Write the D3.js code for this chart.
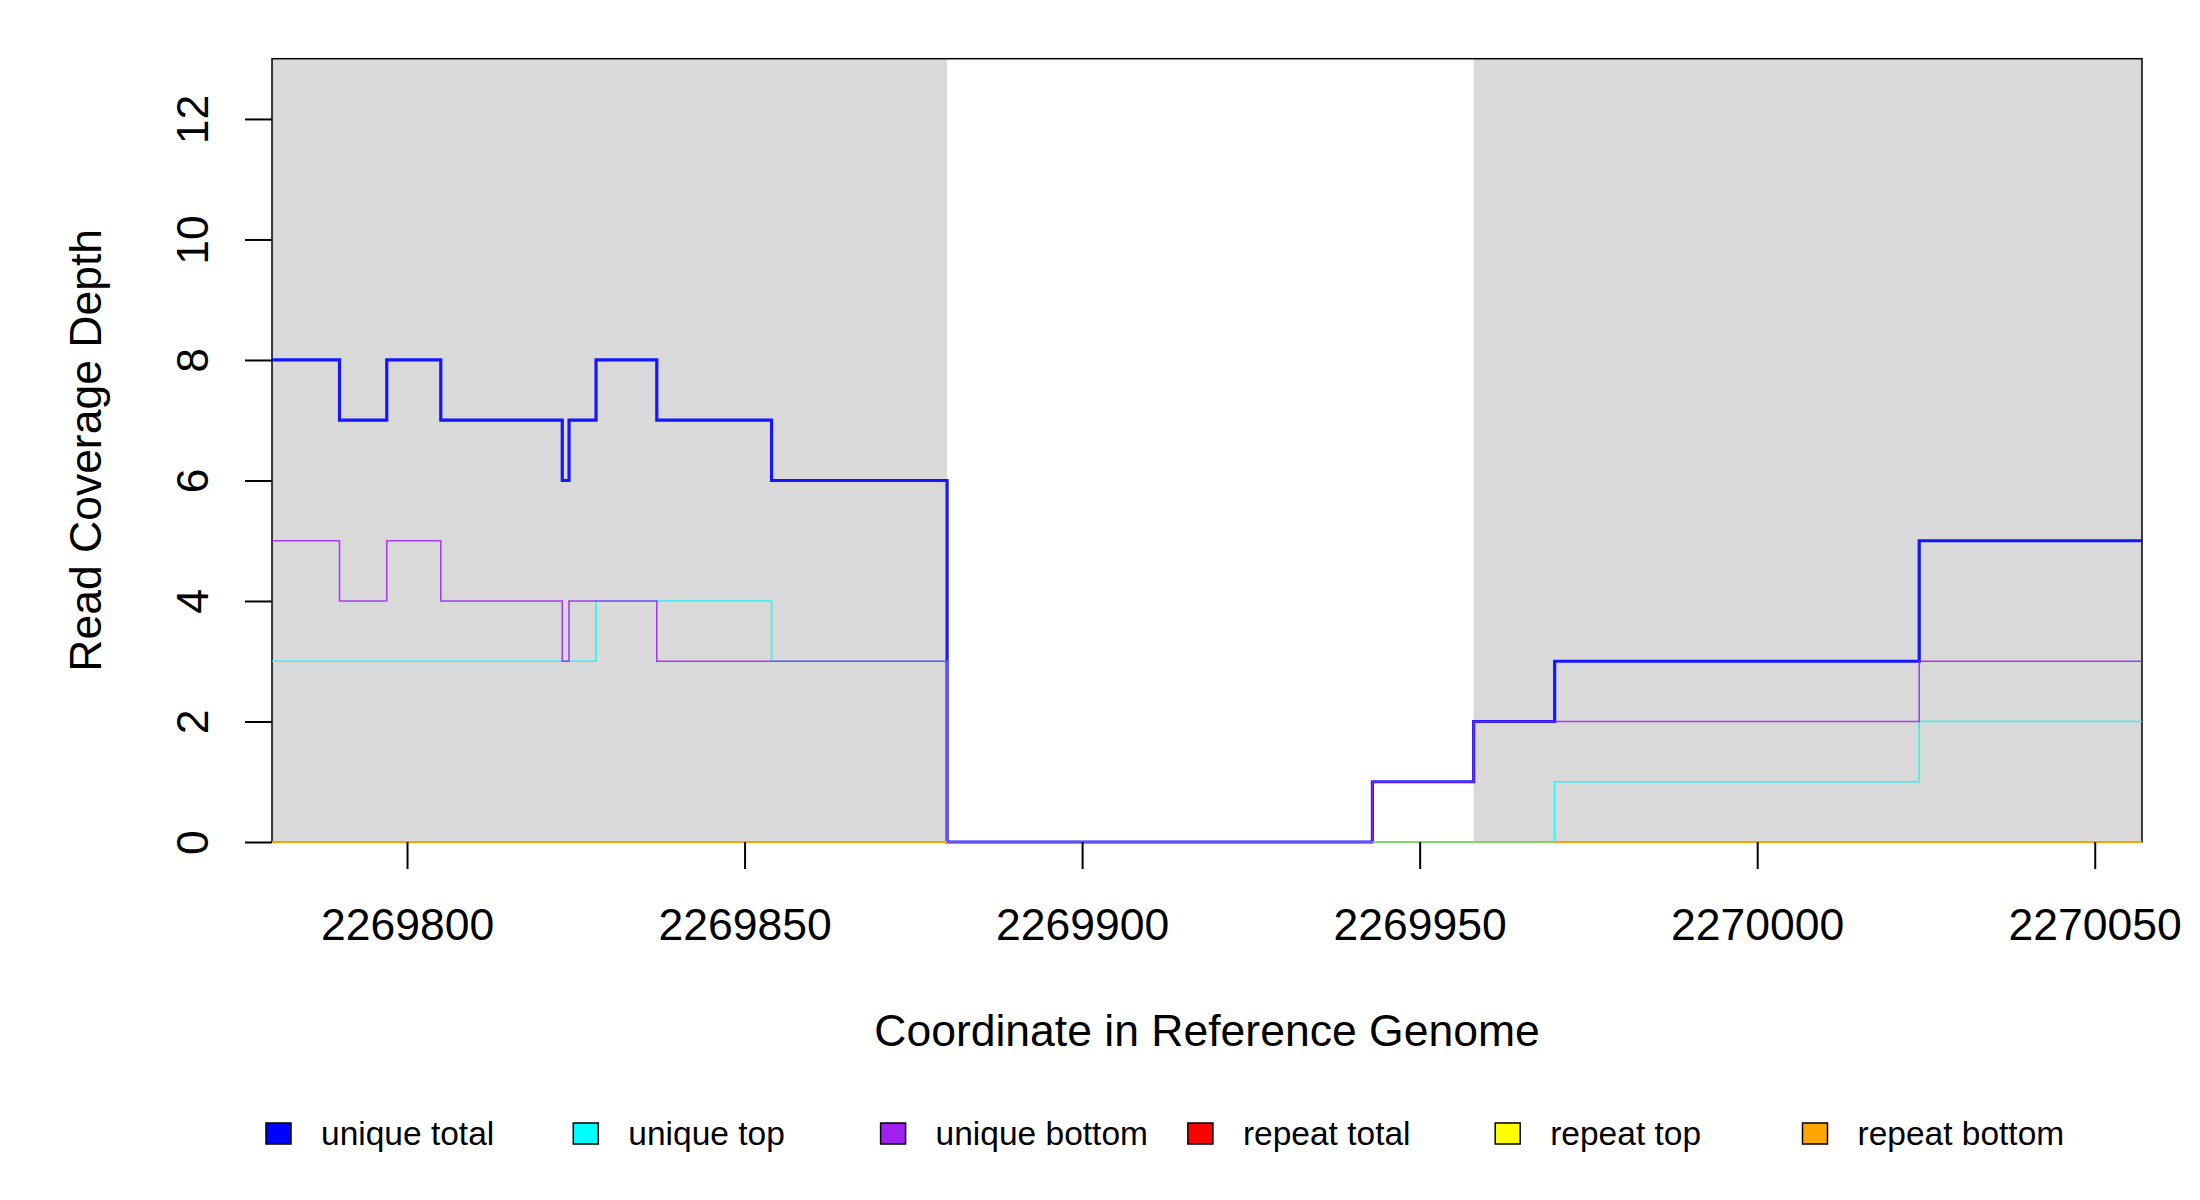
<!DOCTYPE html>
<html>
<head>
<meta charset="utf-8">
<script src="https://cdn.jsdelivr.net/npm/d3@7"></script>
<style>
  body { margin: 0; background: #fff; }
  svg { display: block; }
</style>
</head>
<body>
<svg id="chart"></svg>
<script>
// segment boundaries (genome coordinate) and per-segment depth
const breaks = [2269780, 2269790, 2269797, 2269805, 2269823, 2269824, 2269828,
  2269837, 2269854, 2269880, 2269943, 2269958, 2269970, 2270024, 2270057];
const uniqueTotal  = [8, 7, 8, 7, 6, 7, 8, 7, 6, 0, 1, 2, 3, 5];
const uniqueTop    = [3, 3, 3, 3, 3, 3, 4, 4, 3, 0, 0, 0, 1, 2];
const uniqueBottom = [5, 4, 5, 4, 3, 4, 4, 3, 3, 0, 1, 2, 2, 3];
const repeatTotal  = [0, 0, 0, 0, 0, 0, 0, 0, 0, null, null, null, 0, 0];
const repeatTop    = [0, 0, 0, 0, 0, 0, 0, 0, 0, null, 0, 0, 0, 0];
const repeatBottom = [0, 0, 0, 0, 0, 0, 0, 0, 0, null, null, null, 0, 0];

// shaded regions
const shadeStart = [2269780, 2269958];
const shadeEnd   = [2269880, 2270057];

const xTicks = [2269800, 2269850, 2269900, 2269950, 2270000, 2270050];
const yTicks = [0, 2, 4, 6, 8, 10, 12];

const seriesNames = ["unique total", "unique top", "unique bottom", "repeat total", "repeat top", "repeat bottom"];
const seriesColors = ["#0000ff", "#00ffff", "#a020f0", "#ff0000", "#ffff00", "#ffa500"];
const seriesWidths = [3.2, 1.6, 1.6, 2, 2, 2];
const seriesOpacity = [0.9, 0.85, 0.85, 0.85, 0.45, 0.9];
const seriesValues = [uniqueTotal, uniqueTop, uniqueBottom, repeatTotal, repeatTop, repeatBottom];

const width = 2200, height = 1200;
const margin = { top: 58.7, right: 58, bottom: 358, left: 272 };
const font = "'Liberation Sans', Arial, Helvetica, sans-serif";

const svg = d3.select("#chart")
  .attr("width", width)
  .attr("height", height)
  .attr("viewBox", [0, 0, width, height])
  .style("font-family", font);

const scaleX = d3.scaleLinear()
  .domain([breaks[0], breaks[breaks.length - 1]])
  .range([margin.left, width - margin.right]);

const scaleY = d3.scaleLinear()
  .domain([0, 13])
  .range([height - margin.bottom, margin.top]);

// gray shading
svg.append("g")
  .selectAll("rect")
  .data(d3.zip(shadeStart, shadeEnd))
  .join("rect")
  .attr("x", d => scaleX(d[0]))
  .attr("y", margin.top)
  .attr("width", d => scaleX(d[1]) - scaleX(d[0]))
  .attr("height", scaleY(0) - margin.top)
  .attr("fill", "#d9d9d9");

// plot box
svg.append("rect")
  .attr("x", margin.left)
  .attr("y", margin.top)
  .attr("width", width - margin.right - margin.left)
  .attr("height", scaleY(0) - margin.top)
  .attr("fill", "none")
  .attr("stroke", "#000")
  .attr("stroke-width", 1.5);

// turn segment values into step points
function stepPoints(values) {
  const pts = [];
  values.forEach((v, i) => {
    pts.push({ x: breaks[i], v });
    pts.push({ x: breaks[i + 1], v });
  });
  return pts;
}

const line = d3.line()
  .defined(d => d.v !== null)
  .x(d => scaleX(d.x))
  .y(d => scaleY(d.v));

svg.append("g")
  .selectAll("path")
  .data(seriesValues)
  .join("path")
  .attr("fill", "none")
  .attr("stroke", (d, i) => seriesColors[i])
  .attr("stroke-width", (d, i) => seriesWidths[i])
  .attr("stroke-opacity", (d, i) => seriesOpacity[i])
  .attr("d", d => line(stepPoints(d)));

// x axis
const xAxis = svg.append("g")
  .attr("transform", `translate(0,${scaleY(0)})`)
  .call(d3.axisBottom(scaleX).tickValues(xTicks).tickFormat(d3.format("d"))
    .tickSize(27).tickPadding(0).tickSizeOuter(0));
xAxis.select(".domain").remove();
xAxis.selectAll(".tick line").attr("stroke-width", 2);
xAxis.selectAll(".tick text")
  .attr("y", 98)
  .attr("dy", null)
  .style("font-size", "44.5px")
  .style("font-family", font)
  .attr("fill", "#000");

// y axis
const yAxis = svg.append("g")
  .attr("transform", `translate(${margin.left},0)`)
  .call(d3.axisLeft(scaleY).tickValues(yTicks).tickSize(27).tickSizeOuter(0));
yAxis.select(".domain").remove();
yAxis.selectAll(".tick line").attr("stroke-width", 2);
yAxis.selectAll(".tick text")
  .attr("x", null)
  .attr("dy", null)
  .attr("text-anchor", "middle")
  .attr("transform", `translate(-64,0) rotate(-90)`)
  .style("font-size", "44.5px")
  .style("font-family", font)
  .attr("fill", "#000");

// axis titles
svg.append("text")
  .attr("x", (margin.left + width - margin.right) / 2)
  .attr("y", 1046)
  .attr("text-anchor", "middle")
  .style("font-size", "44.5px")
  .text("Coordinate in Reference Genome");

svg.append("text")
  .attr("transform", `translate(101,${(margin.top + scaleY(0)) / 2}) rotate(-90)`)
  .attr("text-anchor", "middle")
  .style("font-size", "44.5px")
  .text("Read Coverage Depth");

// legend
const legend = svg.append("g")
  .selectAll("g")
  .data(seriesNames)
  .join("g")
  .attr("transform", (d, i) => `translate(${266 + i * 307.3},1123)`);

legend.append("rect")
  .attr("width", 25)
  .attr("height", 21)
  .attr("fill", (d, i) => seriesColors[i])
  .attr("stroke", "#000")
  .attr("stroke-width", 1.5);

legend.append("text")
  .attr("x", 55)
  .attr("y", 22)
  .style("font-size", "33.5px")
  .text(d => d);
</script>
</body>
</html>
